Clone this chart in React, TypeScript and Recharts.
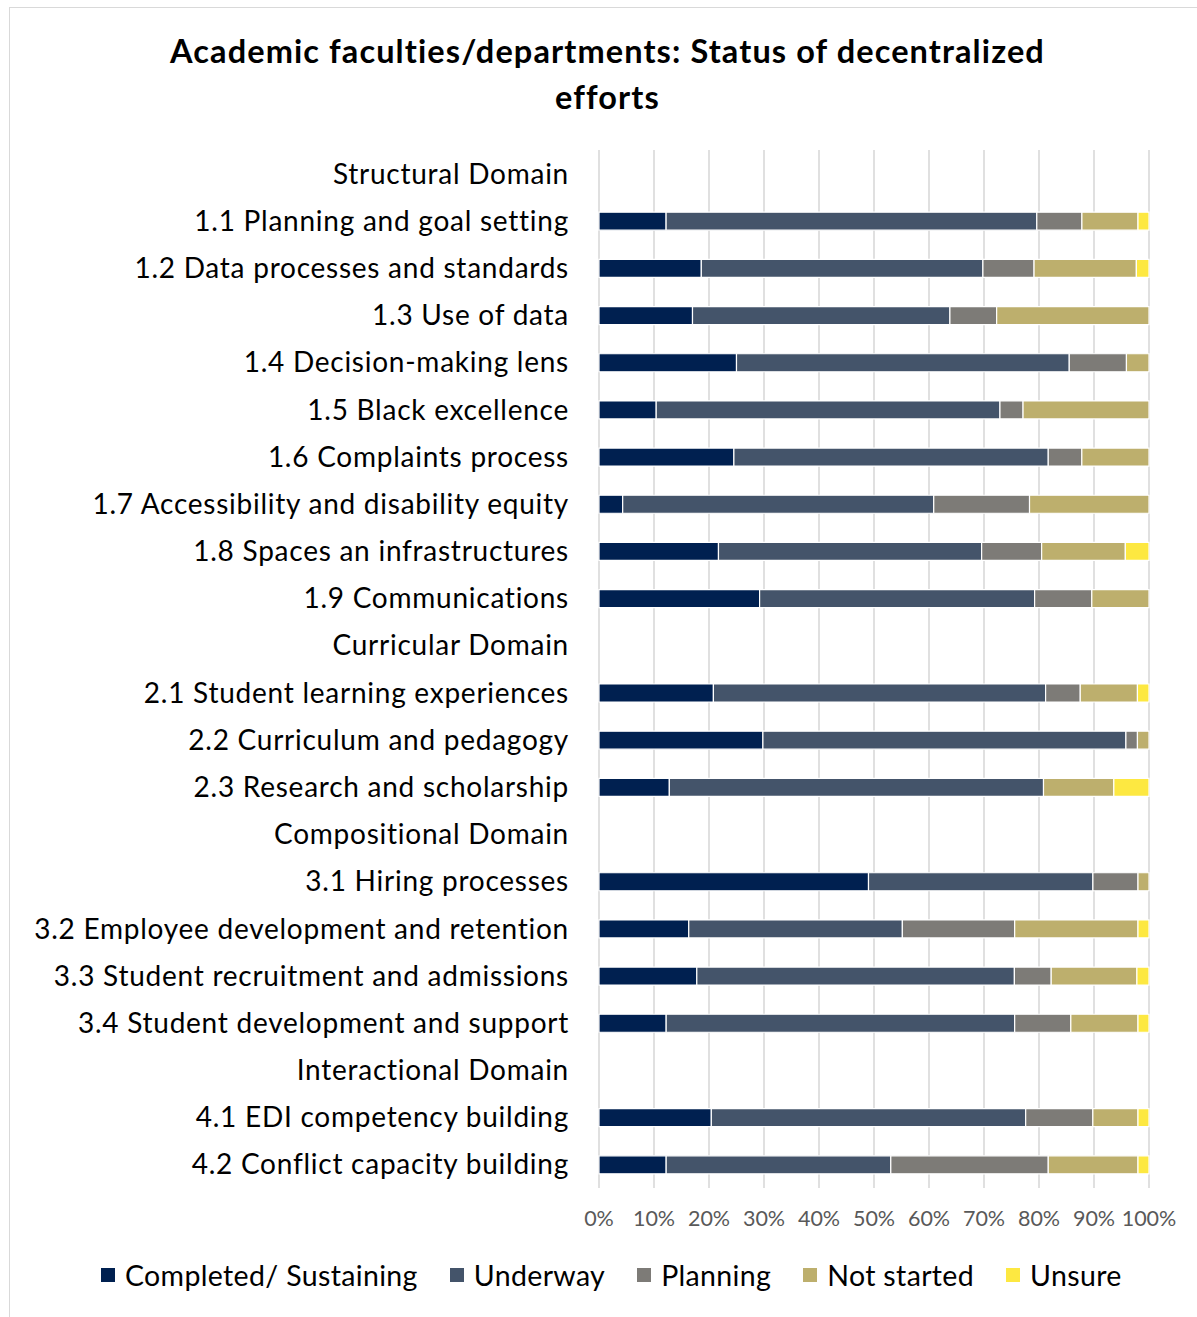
import React from "react";
import { BarChart, Bar, XAxis, YAxis, CartesianGrid } from "recharts";

const categories = [
  "Structural Domain",
  "1.1 Planning and goal setting",
  "1.2 Data processes and standards",
  "1.3 Use of data",
  "1.4 Decision-making lens",
  "1.5 Black excellence",
  "1.6 Complaints process",
  "1.7 Accessibility and disability equity",
  "1.8 Spaces an infrastructures",
  "1.9 Communications",
  "Curricular Domain",
  "2.1 Student learning experiences",
  "2.2 Curriculum and pedagogy",
  "2.3 Research and scholarship",
  "Compositional Domain",
  "3.1 Hiring processes",
  "3.2 Employee development and retention",
  "3.3 Student recruitment and admissions",
  "3.4 Student development and support",
  "Interactional Domain",
  "4.1 EDI competency building",
  "4.2 Conflict capacity building",
];

const completed = [0, 12.2, 18.6, 17.0, 25.0, 10.4, 24.5, 4.3, 21.7, 29.2, 0, 20.8, 29.8, 12.8, 0, 49.0, 16.3, 17.8, 12.2, 0, 20.4, 12.2];
const underway = [0, 67.4, 51.2, 46.8, 60.5, 62.5, 57.1, 56.5, 47.8, 50.0, 0, 60.4, 66.0, 68.1, 0, 40.8, 38.8, 57.8, 63.3, 0, 57.1, 40.8];
const planning = [0, 8.2, 9.3, 8.5, 10.4, 4.2, 6.1, 17.4, 10.9, 10.4, 0, 6.3, 2.1, 0, 0, 8.2, 20.4, 6.7, 10.2, 0, 12.2, 28.6];
const notStarted = [0, 10.2, 18.6, 27.7, 4.1, 22.9, 12.2, 21.7, 15.2, 10.4, 0, 10.4, 2.1, 12.8, 0, 2.0, 22.4, 15.6, 12.2, 0, 8.2, 16.3];
const unsure = [0, 2.0, 2.3, 0, 0, 0, 0, 0, 4.3, 0, 0, 2.1, 0, 6.4, 0, 0, 2.0, 2.2, 2.0, 0, 2.0, 2.0];

const xTicks = [0, 0.1, 0.2, 0.3, 0.4, 0.5, 0.6, 0.7, 0.8, 0.9, 1];

const series = [
  { key: "completed", name: "Completed/ Sustaining", color: "#002050" },
  { key: "underway", name: "Underway", color: "#44546A" },
  { key: "planning", name: "Planning", color: "#7D7B77" },
  { key: "notStarted", name: "Not started", color: "#BDAF6D" },
  { key: "unsure", name: "Unsure", color: "#FDE841" },
];

const data = categories.map((name, i) => ({
  name,
  completed: completed[i],
  underway: underway[i],
  planning: planning[i],
  notStarted: notStarted[i],
  unsure: unsure[i],
}));

const FONT = "Lato, 'Open Sans', sans-serif";

const YTick = (props: any) => {
  const { x, y, payload } = props;
  return (
    <text
      x={x + 1}
      y={y}
      dy="0.36em"
      textAnchor="end"
      fill="#000"
      fontSize={28}
      letterSpacing={0.75}
      fontFamily={FONT}
    >
      {payload.value}
    </text>
  );
};

export default function App() {
  return (
    <div style={{ position: "absolute", left: 0, top: 0, width: 1197, height: 1317, background: "#fff", overflow: "hidden" }}>
      <div style={{ position: "absolute", left: 9, top: 7, right: 0, bottom: 0, borderLeft: "1.5px solid #D9D9D9", borderTop: "1.5px solid #D9D9D9" }} />
      <div
        style={{
          position: "absolute",
          left: 0,
          top: 28,
          width: 1215,
          textAlign: "center",
          fontFamily: FONT,
          fontWeight: 700,
          fontSize: 32.5,
          letterSpacing: 1.1,
          lineHeight: "46px",
          color: "#000",
        }}
      >
        Academic faculties/departments: Status of decentralized
        <br />
        efforts
      </div>
      <div style={{ position: "absolute", left: 0, top: 0 }}>
        <BarChart
          width={1197}
          height={1317}
          data={data}
          layout="vertical"
          stackOffset="expand"
          margin={{ top: 150, right: 48, bottom: 69, left: 0 }}
        >
          <CartesianGrid horizontal={false} vertical={true} stroke="#D9D9D9" strokeWidth={1.6} />
          <XAxis
            type="number"
            domain={[0, 1]}
            ticks={xTicks}
            tickFormatter={(v: number) => `${Math.round(v * 100)}%`}
            axisLine={false}
            tickLine={false}
            tickSize={0}
            tickMargin={23}
            height={60}
            interval={0}
            tick={{ fill: "#595959", fontSize: 21.5, fontFamily: FONT }}
          />
          <YAxis
            type="category"
            dataKey="name"
            width={599}
            axisLine={false}
            tickLine={false}
            tickSize={0}
            tickMargin={31}
            interval={0}
            tick={<YTick />}
          />
          {series.map((s) => (
            <Bar
              key={s.key}
              dataKey={s.key}
              name={s.name}
              stackId="a"
              fill={s.color}
              stroke="#fff"
              strokeWidth={1.2}
              barSize={18}
              isAnimationActive={false}
            />
          ))}
        </BarChart>
      </div>
      <div
        style={{
          position: "absolute",
          left: 101,
          top: 1258,
          display: "flex",
          alignItems: "center",
          fontFamily: FONT,
          fontSize: 28.5,
          letterSpacing: 0.35,
          color: "#000",
          whiteSpace: "nowrap",
        }}
      >
        {series.map((s) => (
          <div key={s.key} style={{ display: "flex", alignItems: "center", marginRight: 32 }}>
            <div style={{ width: 14, height: 14, background: s.color, marginRight: 10 }} />
            <span>{s.name}</span>
          </div>
        ))}
      </div>
    </div>
  );
}
